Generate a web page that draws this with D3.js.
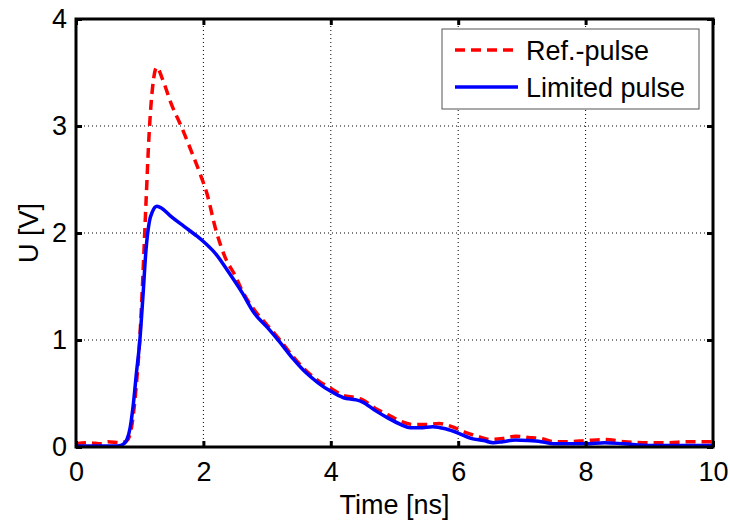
<!DOCTYPE html>
<html>
<head>
<meta charset="utf-8">
<script src="https://cdn.jsdelivr.net/npm/d3@7"></script>
<style>
  html, body { margin: 0; padding: 0; background: #fff; }
  text { font-family: "Liberation Sans", Arial, sans-serif; }
</style>
</head>
<body>
<svg id="chart" width="730" height="522"></svg>
<script>
// Measured pulse waveforms: time in ns, voltage in V
const refTime = [0, 0.2, 0.4, 0.5, 0.7, 0.8, 0.85, 0.9, 0.95, 1.0, 1.05, 1.1, 1.15, 1.2, 1.27, 1.35, 1.5, 1.65, 1.8, 1.95, 2.05, 2.2, 2.35, 2.5, 2.6, 2.8, 3.0, 3.2, 3.4, 3.6, 3.8, 4.0, 4.2, 4.4, 4.5, 4.7, 4.9, 5.1, 5.3, 5.5, 5.7, 5.9, 6.1, 6.3, 6.5, 6.7, 6.9, 7.1, 7.3, 7.5, 7.7, 8.0, 8.3, 8.6, 9.0, 9.3, 9.6, 10];
const refVolt = [0.03, 0.04, 0.03, 0.05, 0.04, 0.06, 0.12, 0.3, 0.6, 1.0, 1.6, 2.3, 2.95, 3.35, 3.55, 3.45, 3.2, 3.0, 2.78, 2.55, 2.38, 2.02, 1.76, 1.6, 1.47, 1.28, 1.14, 1.0, 0.85, 0.72, 0.62, 0.55, 0.48, 0.46, 0.44, 0.36, 0.3, 0.24, 0.21, 0.21, 0.22, 0.19, 0.14, 0.1, 0.07, 0.08, 0.1, 0.09, 0.08, 0.05, 0.05, 0.06, 0.07, 0.05, 0.04, 0.04, 0.05, 0.05];

const limTime = [0, 0.2, 0.4, 0.6, 0.7, 0.75, 0.8, 0.85, 0.9, 0.95, 1.0, 1.05, 1.1, 1.15, 1.2, 1.27, 1.35, 1.5, 1.7, 1.9, 2.0, 2.2, 2.4, 2.6, 2.8, 3.0, 3.2, 3.4, 3.6, 3.8, 4.0, 4.2, 4.4, 4.5, 4.7, 4.9, 5.1, 5.25, 5.4, 5.6, 5.8, 6.0, 6.2, 6.4, 6.55, 6.7, 6.9, 7.1, 7.3, 7.5, 7.8, 8.0, 8.3, 8.6, 9.0, 9.5, 10];
const limVolt = [0.01, 0.01, 0.01, 0.01, 0.015, 0.03, 0.07, 0.18, 0.4, 0.7, 0.98, 1.4, 1.85, 2.1, 2.2, 2.25, 2.23, 2.15, 2.06, 1.97, 1.92, 1.8, 1.63, 1.45, 1.25, 1.12, 0.98, 0.83, 0.7, 0.6, 0.52, 0.46, 0.44, 0.42, 0.34, 0.27, 0.21, 0.18, 0.18, 0.19, 0.17, 0.13, 0.08, 0.06, 0.04, 0.05, 0.065, 0.06, 0.05, 0.03, 0.03, 0.03, 0.04, 0.03, 0.015, 0.015, 0.015];

const xTicks = [0, 2, 4, 6, 8, 10];
const yTicks = [0, 1, 2, 3, 4];
const seriesNames = ["Ref.-pulse", "Limited pulse"];

const svg = d3.select("#chart");
const margin = { left: 76, top: 19, right: 17, bottom: 75 };
const W = 730, H = 522;
const x = d3.scaleLinear().domain([0, 10]).range([margin.left, W - margin.right]);
const y = d3.scaleLinear().domain([0, 4]).range([H - margin.bottom, margin.top]);

const x0 = x.range()[0], x1 = x.range()[1];
const y0 = y.range()[0], y1 = y.range()[1];

// Dotted grid
const grid = svg.append("g");
xTicks.slice(1, -1).forEach(t => {
  grid.append("line").attr("x1", x(t)).attr("x2", x(t)).attr("y1", y0).attr("y2", y1)
    .attr("stroke", "#000").attr("stroke-width", 1).attr("stroke-dasharray", "1,3");
});
yTicks.slice(1, -1).forEach(t => {
  grid.append("line").attr("x1", x0).attr("x2", x1).attr("y1", y(t)).attr("y2", y(t))
    .attr("stroke", "#000").attr("stroke-width", 1).attr("stroke-dasharray", "1,3");
});

// Series
const line = d3.line().x(d => x(d[0])).y(d => y(d[1])).curve(d3.curveMonotoneX);
const refData = refTime.map((t, i) => [t, refVolt[i]]);
const limData = limTime.map((t, i) => [t, limVolt[i]]);

svg.append("path").datum(refData).attr("d", line)
  .attr("fill", "none").attr("stroke", "#ff0000").attr("stroke-width", 3.5)
  .attr("stroke-dasharray", "10,6");
svg.append("path").datum(limData).attr("d", line)
  .attr("fill", "none").attr("stroke", "#0000ff").attr("stroke-width", 3.5);

// Axes with inward ticks on all four sides
const fontSize = 27;
const bottomAxis = d3.axisBottom(x).tickValues(xTicks).tickSize(-6).tickPadding(15).tickFormat(d3.format("d"));
const topAxis = d3.axisTop(x).tickValues(xTicks).tickSize(-6).tickFormat("");
const leftAxis = d3.axisLeft(y).tickValues(yTicks).tickSize(-6).tickPadding(9).tickFormat(d3.format("d"));
const rightAxis = d3.axisRight(y).tickValues(yTicks).tickSize(-6).tickFormat("");

function styleAxis(g) {
  g.select(".domain").remove();
  g.selectAll(".tick line").attr("stroke", "#000").attr("stroke-width", 3);
  g.selectAll(".tick text").attr("fill", "#000").style("font-size", fontSize + "px")
    .style("font-family", "'Liberation Sans', Arial, sans-serif");
}
svg.append("g").attr("transform", `translate(0,${y0})`).call(bottomAxis).call(styleAxis);
svg.append("g").attr("transform", `translate(0,${y1})`).call(topAxis).call(styleAxis);
svg.append("g").attr("transform", `translate(${x0},0)`).call(leftAxis).call(styleAxis);
svg.append("g").attr("transform", `translate(${x1},0)`).call(rightAxis).call(styleAxis);

// Box
svg.append("rect").attr("x", x0).attr("y", y1).attr("width", x1 - x0).attr("height", y0 - y1)
  .attr("fill", "none").attr("stroke", "#000").attr("stroke-width", 3);

// Axis titles
svg.append("text").attr("x", (x0 + x1) / 2).attr("y", 514).attr("text-anchor", "middle")
  .style("font-size", fontSize + "px").text("Time [ns]");
svg.append("text").attr("transform", `translate(38,${(y0 + y1) / 2}) rotate(-90)`)
  .attr("text-anchor", "middle").style("font-size", fontSize + "px").text("U [V]");

// Legend
const lg = svg.append("g");
lg.append("rect").attr("x", 442).attr("y", 29).attr("width", 257).attr("height", 80)
  .attr("fill", "#fff").attr("stroke", "#555").attr("stroke-width", 1);
const legendStyles = [
  { color: "#ff0000", dash: "10,6" },
  { color: "#0000ff", dash: null }
];
seriesNames.forEach((name, i) => {
  const yy = 50 + i * 37;
  const l = lg.append("line").attr("x1", 455).attr("x2", 518).attr("y1", yy).attr("y2", yy)
    .attr("stroke", legendStyles[i].color).attr("stroke-width", 3.5);
  if (legendStyles[i].dash) l.attr("stroke-dasharray", legendStyles[i].dash);
  lg.append("text").attr("x", 526).attr("y", yy + 10).style("font-size", fontSize + "px").text(name);
});
</script>
</body>
</html>
